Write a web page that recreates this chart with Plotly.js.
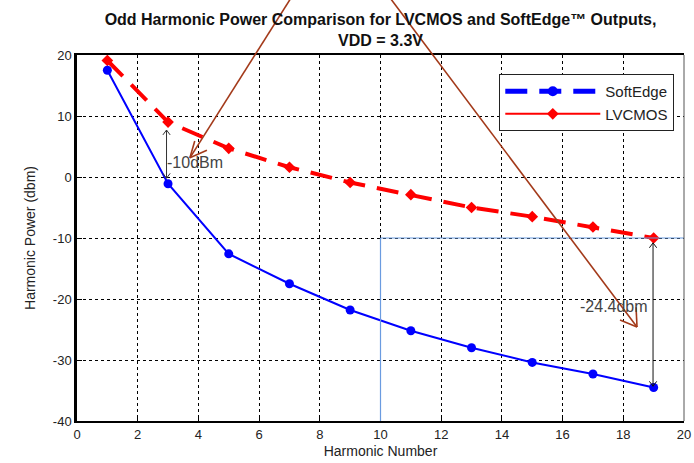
<!DOCTYPE html>
<html><head><meta charset="utf-8">
<script src="https://cdn.plot.ly/plotly-3.0.1.min.js"></script>
<style>html,body{margin:0;padding:0;background:#fff;}#chart{width:694px;height:463px;}</style>
</head><body><div id="chart"></div>
<script>
const harmonics = [1, 3, 5, 7, 9, 11, 13, 15, 17, 19];
const softEdge = [17.5, -1.1, -12.6, -17.5, -21.8, -25.2, -28.0, -30.4, -32.3, -34.5];
const lvcmos = [19.1, 9.0, 4.7, 1.6, -0.9, -2.9, -5.0, -6.5, -8.2, -10.0];
const xTicks = [0, 2, 4, 6, 8, 10, 12, 14, 16, 18, 20];
const yTicks = [-40, -30, -20, -10, 0, 10, 20];

const FONT = 'Liberation Sans, Arial, sans-serif';
const traces = [
  {x: harmonics, y: lvcmos, mode: 'lines+markers', showlegend: false, name: 'LVCMOS',
   line: {color: '#ff0000', width: 4, dash: '22px,12px'},
   marker: {symbol: 'diamond', size: 9, color: '#ff0000'}},
  {x: harmonics, y: softEdge, mode: 'lines+markers', showlegend: false, name: 'SoftEdge',
   line: {color: '#0000ff', width: 2},
   marker: {symbol: 'circle', size: 9, color: '#0000ff'}},
  {x: [null], y: [null], mode: 'lines+markers', name: 'SoftEdge',
   line: {color: '#0000ff', width: 5, dash: '22px,12px'},
   marker: {symbol: 'circle', size: 10, color: '#0000ff'}},
  {x: [null], y: [null], mode: 'lines+markers', name: 'LVCMOS',
   line: {color: '#ff0000', width: 2},
   marker: {symbol: 'diamond', size: 9, color: '#ff0000'}}
];

const brown = '#a33a1a';
function ln(x0,y0,x1,y1,color,width,ref){
  return {type:'line', xref: ref||'x', yref: ref==='paper'?'paper':'y', x0:x0,y0:y0,x1:x1,y1:y1,
          line:{color:color,width:width}, layer:'above'};
}
const shapes = [
  ln(10,-10,10,-40,'#6a9be0',1.2),
  ln(10,-10,20,-10,'#6a9be0',1.2),
  {type:'line', xref:'paper', yref:'paper', x0:1, x1:1, y0:0, y1:1, line:{color:'#555',width:1}},
  ln(2.95,7.7,2.95,-0.2,'#333',1),
  ln(2.95,7.7,2.83,6.9,'#333',1), ln(2.95,7.7,3.07,6.9,'#333',1),
  ln(2.95,-0.2,2.83,0.6,'#333',1), ln(2.95,-0.2,3.07,0.6,'#333',1),
  ln(18.98,-10.8,18.98,-34.3,'#111',1),
  ln(18.98,-10.8,18.86,-11.6,'#111',1), ln(18.98,-10.8,19.1,-11.6,'#111',1),
  ln(18.98,-34.3,18.86,-33.5,'#111',1), ln(18.98,-34.3,19.1,-33.5,'#111',1),
  ln(0.3526,1.156,0.186,0.719,brown,1.6,'paper'),
  ln(0.186,0.719,0.194,0.765,brown,1.6,'paper'),
  ln(0.186,0.719,0.214,0.740,brown,1.6,'paper'),
  ln(0.5157,1.156,0.9226,0.257,brown,1.6,'paper'),
  ln(0.9226,0.257,0.8946,0.276,brown,1.6,'paper'),
  ln(0.9226,0.257,0.921,0.311,brown,1.6,'paper')
];

const annotations = [
  {text:'-10dBm', x:2.9, y:2.4, xref:'x', yref:'y', xanchor:'left', yanchor:'middle', showarrow:false,
   font:{family:FONT, size:16, color:'#444'}},
  {text:'-24.4dbm', x:16.5, y:-21.3, xref:'x', yref:'y', xanchor:'left', yanchor:'middle', showarrow:false,
   font:{family:FONT, size:16, color:'#444'}}
];

const layout = {
  width: 694, height: 463,
  margin: {l: 77, r: 10, t: 55, b: 42},
  paper_bgcolor: '#fff', plot_bgcolor: '#fff',
  font: {family: FONT, color: '#222', size: 13},
  title: {text: 'Odd Harmonic Power Comparison for LVCMOS and SoftEdge™ Outputs,<br>VDD = 3.3V',
          font: {family: FONT, size: 16, color: '#111', weight: 'bold'},
          x: 0.5, xref: 'paper', y: 0.946, yref: 'container', yanchor: 'top'},
  xaxis: {range: [0, 20], tickvals: xTicks, ticktext: xTicks.map(String), ticks: 'inside', ticklen: 5,
          tickcolor: '#000', showline: true, linecolor: '#000', linewidth: 2, mirror: true,
          showgrid: true, gridcolor: '#000', griddash: 'dot', gridwidth: 1, zeroline: false,
          title: {text: 'Harmonic Number', font: {family: FONT, size: 14, color: '#222'}, standoff: 6},
          tickfont: {family: FONT, size: 13, color: '#222'}},
  yaxis: {range: [-40, 20], tickvals: yTicks, ticktext: yTicks.map(String), ticks: 'inside', ticklen: 5,
          tickcolor: '#000', showline: true, linecolor: '#000', linewidth: 2.5,
          showgrid: true, gridcolor: '#000', griddash: 'dot', gridwidth: 1, zeroline: false,
          title: {text: 'Harmonic Power (dbm)', font: {family: FONT, size: 14, color: '#222'}, standoff: 14},
          tickfont: {family: FONT, size: 13, color: '#222'}},
  legend: {x: 0.984, xanchor: 'right', y: 0.948, yanchor: 'top', bgcolor: '#fff',
           bordercolor: '#222', borderwidth: 1, font: {family: FONT, size: 15, color: '#222'},
           itemwidth: 95, entrywidth: 194, tracegroupgap: 0},
  shapes: shapes,
  annotations: annotations
};
Plotly.newPlot('chart', traces, layout, {displayModeBar: false});
</script></body></html>
